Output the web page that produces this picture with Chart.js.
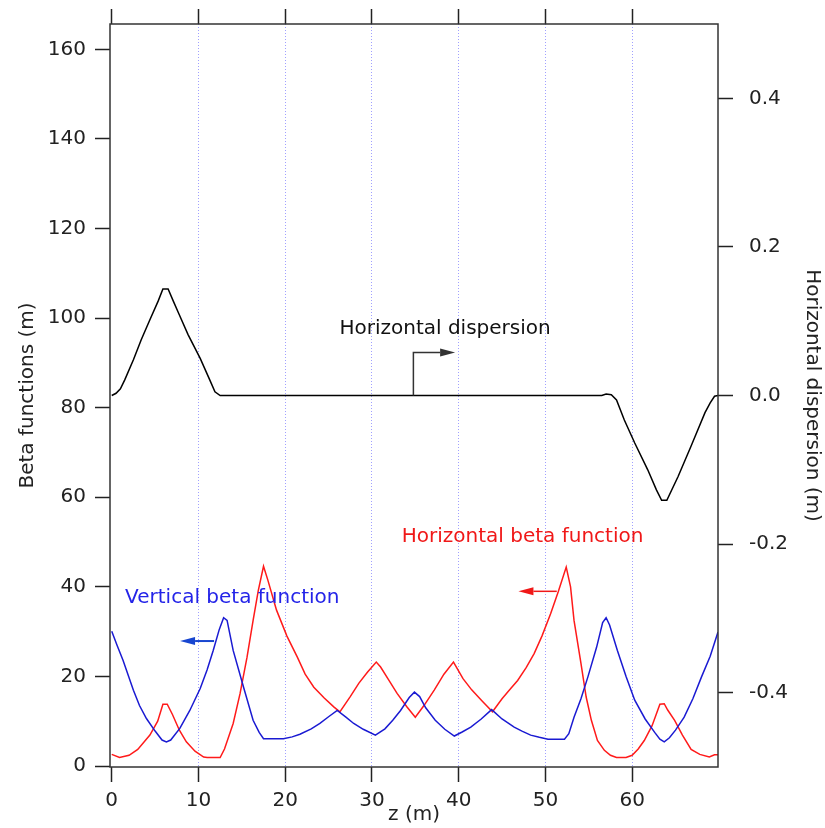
<!DOCTYPE html>
<html>
<head>
<meta charset="utf-8">
<script src="https://cdn.jsdelivr.net/npm/chart.js@4"></script>
<style>
  html, body { margin: 0; padding: 0; background: #fff; }
  #wrap { width: 825px; height: 828px; }
</style>
</head>
<body>
<div id="wrap"><canvas id="chart" width="825" height="828"></canvas></div>
<script>
// tick values
const X_TICKS = [0, 10, 20, 30, 40, 50, 60];
const Y_TICKS = [0, 20, 40, 60, 80, 100, 120, 140, 160];
const Y2_TICKS = [-0.4, -0.2, 0, 0.2, 0.4];

// horizontal beta function (m) vs z (m)
const HBETA_Z = [0.0, 0.9, 2.0, 3.0, 4.4, 5.3, 5.9, 6.4, 7.0, 7.8, 8.6, 9.6, 10.6, 11.0, 12.5, 13.0, 14.0, 14.8, 15.6, 16.3, 16.9, 17.5, 18.0, 19.0, 20.2, 21.4, 22.3, 23.3, 24.5, 25.6, 26.3, 27.5, 28.5, 29.5, 30.5, 31.0, 32.0, 32.9, 34.0, 35.0, 36.0, 37.2, 38.3, 39.4, 40.5, 41.5, 42.7, 43.9, 45.0, 46.0, 46.8, 47.8, 48.7, 49.6, 50.6, 51.5, 52.4, 52.9, 53.3, 54.1, 54.7, 55.3, 56.0, 56.8, 57.5, 58.2, 59.3, 60.0, 60.7, 61.4, 62.3, 63.2, 63.7, 64.1, 64.9, 65.8, 66.8, 67.8, 68.9, 69.5, 69.9];
const HBETA = [2.6, 1.9, 2.4, 3.7, 6.9, 10.0, 13.8, 13.8, 11.5, 8.0, 5.4, 3.3, 2.0, 1.9, 1.9, 3.8, 9.5, 16.2, 24.3, 32.5, 39.2, 44.6, 41.5, 34.8, 29.0, 24.3, 20.5, 17.6, 15.2, 13.2, 12.1, 15.5, 18.5, 21.0, 23.2, 22.1, 19.0, 16.2, 13.3, 10.9, 13.5, 17.0, 20.5, 23.2, 19.5, 17.0, 14.5, 12.1, 15.0, 17.3, 19.1, 22.0, 25.1, 29.0, 34.0, 39.0, 44.4, 40.0, 32.5, 22.9, 15.4, 10.2, 5.7, 3.5, 2.4, 1.9, 1.9, 2.4, 3.8, 5.7, 9.0, 13.8, 13.9, 12.5, 10.2, 6.9, 3.7, 2.6, 2.0, 2.5, 2.5];

// vertical beta function (m) vs z (m)
const VBETA_Z = [0.0, 0.6, 1.3, 2.5, 3.2, 4.0, 5.0, 5.8, 6.3, 6.8, 7.85, 9.0, 10.2, 11.0, 11.7, 12.4, 12.9, 13.3, 14.0, 15.2, 16.3, 17.0, 17.5, 19.8, 20.8, 21.7, 23.0, 24.0, 25.0, 26.0, 27.0, 27.9, 29.0, 30.4, 31.5, 32.4, 33.3, 34.3, 34.9, 35.5, 36.2, 37.3, 38.4, 39.5, 40.4, 41.4, 42.6, 43.8, 45.0, 46.4, 47.3, 48.3, 49.3, 50.3, 52.2, 52.7, 53.3, 54.1, 54.9, 55.9, 56.6, 57.0, 57.4, 58.3, 59.3, 60.3, 61.5, 62.6, 63.2, 63.7, 64.3, 65.0, 66.0, 67.0, 68.0, 69.0, 69.9];
const VBETA = [30.1, 27.0, 23.6, 16.9, 13.5, 10.6, 7.8, 5.8, 5.4, 5.8, 8.4, 12.4, 17.3, 21.5, 25.8, 30.5, 33.1, 32.5, 25.8, 17.6, 10.2, 7.5, 6.1, 6.1, 6.5, 7.1, 8.3, 9.5, 11.0, 12.4, 10.9, 9.5, 8.2, 6.9, 8.3, 10.2, 12.4, 15.3, 16.5, 15.5, 13.0, 10.2, 8.2, 6.7, 7.6, 8.7, 10.5, 12.6, 10.5, 8.7, 7.8, 6.9, 6.4, 6.0, 6.0, 7.2, 10.9, 15.0, 19.9, 26.5, 32.0, 33.1, 31.5, 25.8, 20.0, 14.7, 10.5, 7.5, 6.0, 5.4, 6.3, 8.0, 10.9, 15.0, 19.9, 24.5, 29.9];

// horizontal dispersion (m) vs z (m)
const DISP_Z = [0.0, 0.5, 1.0, 1.5, 2.5, 3.4, 4.4, 5.35, 5.9, 6.5, 7.1, 7.7, 8.8, 10.2, 11.3, 11.9, 12.5, 56.5, 57.0, 57.6, 58.2, 59.1, 60.3, 61.8, 62.8, 63.4, 64.0, 65.3, 66.8, 68.4, 69.0, 69.5, 69.9];
const DISP = [0.0, 0.003, 0.009, 0.021, 0.048, 0.075, 0.102, 0.127, 0.1435, 0.1435, 0.127, 0.111, 0.082, 0.050, 0.021, 0.005, 0.0, 0.0, 0.002, 0.001, -0.006, -0.033, -0.064, -0.100, -0.127, -0.141, -0.141, -0.109, -0.068, -0.023, -0.010, -0.001, 0.0];

// labels with arrows, in data coordinates
const NOTES = [
  { text: "Horizontal dispersion", x: 38.43, y: 0.0832, axis: "y2", color: "#111" },
  { text: "Horizontal beta function", x: 47.37, y: 50.0, axis: "y", color: "#f01818" },
  { text: "Vertical beta function", x: 13.9, y: 36.4, axis: "y", color: "#2424e8" },
];
const ARROWS = [
  { points: [[34.78, 0], [34.78, 0.058], [39.59, 0.058]], axis: "y2", color: "#333", width: 1.5 },
  { points: [[51.31, 39.0], [46.89, 39.0]], axis: "y", color: "#f01818", width: 1.5 },
  { points: [[11.8, 27.9], [7.88, 27.9]], axis: "y", color: "#1846d0", width: 2 },
];

const FONT = { family: "'DejaVu Sans', sans-serif", size: 20 };
const INK = "#222";
const toXY = (xs, ys) => xs.map((x, i) => ({ x, y: ys[i] }));
const fixedTicks = (values) => (scale) => { scale.ticks = values.map((value) => ({ value })); };
// fixed box size, no extra label padding pushed into the chart area
const fixBox = (w, h) => (s) => {
  if (w != null) s.width = w;
  if (h != null) s.height = h;
  s.paddingTop = 0; s.paddingBottom = 0; s.paddingLeft = 0; s.paddingRight = 0;
};

const decorations = {
  id: "decorations",
  afterDatasetsDraw(chart) {
    const { ctx, chartArea: a, scales } = chart;
    ctx.save();
    ctx.strokeStyle = "#333";
    ctx.lineWidth = 1.5;
    ctx.strokeRect(a.left, a.top, a.right - a.left, a.bottom - a.top);

    ctx.font = `${FONT.size}px ${FONT.family}`;
    ctx.textAlign = "center";
    ctx.textBaseline = "alphabetic";
    NOTES.forEach((n) => {
      ctx.fillStyle = n.color;
      ctx.fillText(n.text, scales.x.getPixelForValue(n.x), scales[n.axis].getPixelForValue(n.y));
    });

    ARROWS.forEach((ar) => {
      const pts = ar.points.map(([x, y]) => [scales.x.getPixelForValue(x), scales[ar.axis].getPixelForValue(y)]);
      const [tx, ty] = pts[pts.length - 1];
      const [px, py] = pts[pts.length - 2];
      const ang = Math.atan2(ty - py, tx - px);
      const head = 15, half = 4;
      ctx.strokeStyle = ar.color;
      ctx.fillStyle = ar.color;
      ctx.lineWidth = ar.width;
      ctx.beginPath();
      ctx.moveTo(pts[0][0], pts[0][1]);
      for (let i = 1; i < pts.length - 1; i++) ctx.lineTo(pts[i][0], pts[i][1]);
      ctx.lineTo(tx - head * Math.cos(ang), ty - head * Math.sin(ang));
      ctx.stroke();
      ctx.beginPath();
      ctx.moveTo(tx, ty);
      ctx.lineTo(tx - head * Math.cos(ang) - half * Math.sin(ang), ty - head * Math.sin(ang) + half * Math.cos(ang));
      ctx.lineTo(tx - head * Math.cos(ang) + half * Math.sin(ang), ty - head * Math.sin(ang) - half * Math.cos(ang));
      ctx.closePath();
      ctx.fill();
    });
    ctx.restore();
  },
};

const line = (label, data, color, axis) => ({
  label, data, yAxisID: axis, xAxisID: "x",
  borderColor: color, borderWidth: 1.5, pointRadius: 0, tension: 0, fill: false,
});

new Chart(document.getElementById("chart"), {
  type: "line",
  data: {
    datasets: [
      line("Horizontal dispersion", toXY(DISP_Z, DISP), "#000", "y2"),
      line("Vertical beta function", toXY(VBETA_Z, VBETA), "#1a1ad2", "y"),
      line("Horizontal beta function", toXY(HBETA_Z, HBETA), "#ff1a1a", "y"),
    ],
  },
  options: {
    responsive: false,
    animation: false,
    devicePixelRatio: 1,
    layout: { padding: 0 },
    plugins: { legend: { display: false }, tooltip: { enabled: false } },
    scales: {
      x: {
        type: "linear", position: "bottom", min: -0.2, max: 69.9,
        afterBuildTicks: fixedTicks(X_TICKS),
        afterFit: fixBox(null, 61),
        ticks: { font: FONT, color: INK, padding: 7, maxRotation: 0, autoSkip: false },
        grid: {
          drawOnChartArea: true,
          color: (c) => (c.tick && c.tick.value === 0 ? "rgba(0,0,0,0)" : "rgba(120,120,255,0.7)"),
          lineWidth: 1, tickColor: INK, tickLength: 15, tickWidth: 1.5,
        },
        border: { display: false, dash: [1, 2] },
        title: { display: true, text: "z (m)", font: FONT, color: INK, padding: { top: 0, bottom: 1 } },
      },
      x2: {
        type: "linear", position: "top", min: -0.2, max: 69.9,
        afterBuildTicks: fixedTicks(X_TICKS),
        afterFit: fixBox(null, 24),
        ticks: { display: false },
        grid: { drawOnChartArea: false, tickColor: INK, tickLength: 15, tickWidth: 1.5 },
        border: { display: false },
      },
      y: {
        type: "linear", position: "left", min: -0.22, max: 165.65,
        afterBuildTicks: fixedTicks(Y_TICKS),
        afterFit: fixBox(110, null),
        ticks: { font: FONT, color: INK, padding: 9 },
        grid: { drawOnChartArea: false, tickColor: INK, tickLength: 15, tickWidth: 1.5 },
        border: { display: false },
        title: { display: true, text: "Beta functions (m)", font: FONT, color: INK, padding: { top: 16, bottom: 0 } },
      },
      y2: {
        type: "linear", position: "right", min: -0.5, max: 0.5,
        afterBuildTicks: fixedTicks(Y2_TICKS),
        afterFit: fixBox(107, null),
        ticks: { font: FONT, color: INK, padding: 16, callback: (v) => Number(v).toFixed(1) },
        grid: { drawOnChartArea: false, tickColor: INK, tickLength: 15, tickWidth: 1.5 },
        border: { display: false },
        title: { display: true, text: "Horizontal dispersion (m)", font: FONT, color: INK, padding: { top: 1, bottom: 0 } },
      },
    },
  },
  plugins: [decorations],
});
</script>
</body>
</html>
